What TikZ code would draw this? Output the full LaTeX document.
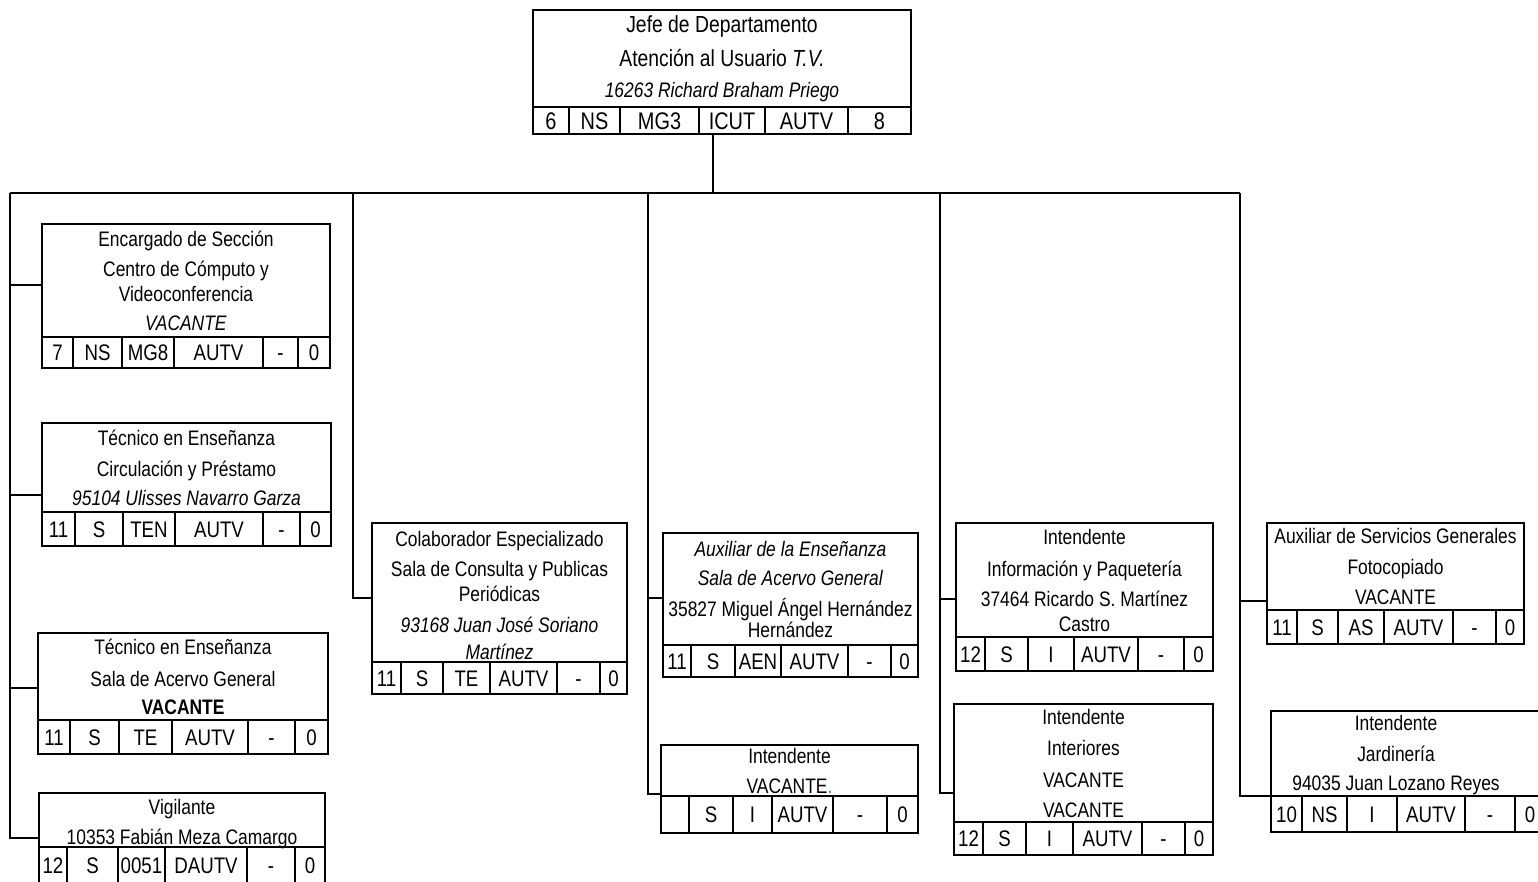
\documentclass[tikz,border=0pt]{standalone}
\usepackage{fontspec}
\setmainfont{Liberation Sans}[FakeStretch=0.83]
\usetikzlibrary{positioning}

\definecolor{verdepunto}{RGB}{0,166,81}
\newcommand{\letracaja}{\fontsize{21}{25}\selectfont}
\newcommand{\letragrande}{\fontsize{23.3}{34}\selectfont}
\newcommand{\letracelda}{\fontsize{22.5}{26}\selectfont}
\newcommand{\letraceldagrande}{\fontsize{24}{28}\selectfont}

\tikzset{
  caja/.style={draw, line width=2.2pt, inner sep=0pt, outer sep=0pt, align=center, anchor=north west, font=\letracaja},
  celda/.style={draw, line width=2.2pt, inner sep=0pt, outer sep=0pt, anchor=north west, minimum height=#1, font=\letracelda, text height=16pt, text depth=0pt},
  celdagrande/.style={celda=#1, font=\letraceldagrande, text height=17pt},
  linea/.style={line width=1.6pt}
}

\begin{document}
\begin{tikzpicture}[x=1pt, y=1pt]
\useasboundingbox[fill=white] (0,0) rectangle (1538,-881);

% jefe de departamento
\node[caja, font=\letragrande, minimum width=378pt, minimum height=97pt] (jefe) at (533,-10) {Jefe de Departamento\\Atención al Usuario \textit{T.V.}\\[-3pt]{\letracaja\itshape 16263 Richard Braham Priego}};
\node[celdagrande=27pt, minimum width=36pt] (jefe1) at (jefe.south west) {6};
\node[celdagrande=27pt, minimum width=51pt, right=0pt of jefe1] (jefe2) {NS};
\node[celdagrande=27pt, minimum width=79pt, right=0pt of jefe2] (jefe3) {MG3};
\node[celdagrande=27pt, minimum width=66pt, right=0pt of jefe3] (jefe4) {ICUT};
\node[celdagrande=27pt, minimum width=83pt, right=0pt of jefe4] (jefe5) {AUTV};
\node[celdagrande=27pt, minimum width=63pt, right=0pt of jefe5] (jefe6) {8};

% primera columna
\node[caja, minimum width=288pt, minimum height=113pt] (enc) at (42,-224) {Encargado de Sección\\[5pt]Centro de Cómputo y\\Videoconferencia\\[4pt]\textit{VACANTE}};
\node[celda=31pt, minimum width=31pt] (enc1) at (enc.south west) {7};
\node[celda=31pt, minimum width=49pt, right=0pt of enc1] (enc2) {NS};
\node[celda=31pt, minimum width=52pt, right=0pt of enc2] (enc3) {MG8};
\node[celda=31pt, minimum width=89pt, right=0pt of enc3] (enc4) {AUTV};
\node[celda=31pt, minimum width=35pt, right=0pt of enc4] (enc5) {-};
\node[celda=31pt, minimum width=32pt, right=0pt of enc5] (enc6) {0};

\node[caja, minimum width=289pt, minimum height=89pt] (circ) at (42,-423) {Técnico en Enseñanza\\[6pt]Circulación y Préstamo\\[4pt]\textit{95104 Ulisses Navarro Garza}};
\node[celda=34pt, minimum width=33pt] (circ1) at (circ.south west) {11};
\node[celda=34pt, minimum width=48pt, right=0pt of circ1] (circ2) {S};
\node[celda=34pt, minimum width=52pt, right=0pt of circ2] (circ3) {TEN};
\node[celda=34pt, minimum width=88pt, right=0pt of circ3] (circ4) {AUTV};
\node[celda=34pt, minimum width=37pt, right=0pt of circ4] (circ5) {-};
\node[celda=34pt, minimum width=31pt, right=0pt of circ5] (circ6) {0};

\node[caja, minimum width=290pt, minimum height=87pt] (sala) at (38,-633) {Técnico en Enseñanza\\[7pt]Sala de Acervo General\\[3pt]\textbf{VACANTE}};
\node[celda=34pt, minimum width=32pt] (sala1) at (sala.south west) {11};
\node[celda=34pt, minimum width=49pt, right=0pt of sala1] (sala2) {S};
\node[celda=34pt, minimum width=53pt, right=0pt of sala2] (sala3) {TE};
\node[celda=34pt, minimum width=76pt, right=0pt of sala3] (sala4) {AUTV};
\node[celda=34pt, minimum width=47pt, right=0pt of sala4] (sala5) {-};
\node[celda=34pt, minimum width=33pt, right=0pt of sala5] (sala6) {0};

\node[caja, minimum width=286pt, minimum height=54pt] (vig) at (39,-793) {};
\node[font=\letracaja, align=center, inner sep=0pt] (vigtexto) at ([yshift=-4pt]vig.center) {Vigilante\\[5pt]10353 Fabián Meza Camargo};
\node[celda=36pt, minimum width=28pt] (vig1) at (vig.south west) {12};
\node[celda=36pt, minimum width=51pt, right=0pt of vig1] (vig2) {S};
\node[celda=36pt, minimum width=47pt, right=0pt of vig2] (vig3) {0051};
\node[celda=36pt, minimum width=82pt, right=0pt of vig3] (vig4) {DAUTV};
\node[celda=36pt, minimum width=48pt, right=0pt of vig4] (vig5) {-};
\node[celda=36pt, minimum width=30pt, right=0pt of vig5] (vig6) {0};

% segunda columna
\node[caja, minimum width=255pt, minimum height=139pt] (colab) at (372,-523) {\rule{0pt}{22pt}Colaborador Especializado\\[5pt]Sala de Consulta y Publicas\\Periódicas\\[6pt]\textit{93168 Juan José Soriano}\\[2pt]\textit{Martínez}};
\node[celda=32pt, minimum width=29pt] (colab1) at (colab.south west) {11};
\node[celda=32pt, minimum width=42pt, right=0pt of colab1] (colab2) {S};
\node[celda=32pt, minimum width=47pt, right=0pt of colab2] (colab3) {TE};
\node[celda=32pt, minimum width=67pt, right=0pt of colab3] (colab4) {AUTV};
\node[celda=32pt, minimum width=43pt, right=0pt of colab4] (colab5) {-};
\node[celda=32pt, minimum width=27pt, right=0pt of colab5] (colab6) {0};

% tercera columna
\node[caja, minimum width=255pt, minimum height=112pt] (aux) at (663,-533) {\textit{Auxiliar de la Enseñanza}\\[4pt]\textit{Sala de Acervo General}\\[6pt]35827 Miguel Ángel Hernández\\[-4pt]Hernández};
\node[celda=32pt, minimum width=28pt] (aux1) at (aux.south west) {11};
\node[celda=32pt, minimum width=44pt, right=0pt of aux1] (aux2) {S};
\node[celda=32pt, minimum width=46pt, right=0pt of aux2] (aux3) {AEN};
\node[celda=32pt, minimum width=67pt, right=0pt of aux3] (aux4) {AUTV};
\node[celda=32pt, minimum width=43pt, right=0pt of aux4] (aux5) {-};
\node[celda=32pt, minimum width=27pt, right=0pt of aux5] (aux6) {0};

\node[caja, minimum width=257pt, minimum height=51pt] (intm) at (661,-745) {Intendente\\[5pt]VACANTE{\color{verdepunto}.}};
\node[celda=37pt, minimum width=28pt] (intm1) at (intm.south west) {};
\node[celda=37pt, minimum width=44pt, right=0pt of intm1] (intm2) {S};
\node[celda=37pt, minimum width=39pt, right=0pt of intm2] (intm3) {I};
\node[celda=37pt, minimum width=61pt, right=0pt of intm3] (intm4) {AUTV};
\node[celda=37pt, minimum width=54pt, right=0pt of intm4] (intm5) {-};
\node[celda=37pt, minimum width=31pt, right=0pt of intm5] (intm6) {0};

% cuarta columna
\node[caja, minimum width=257pt, minimum height=114pt] (info) at (956,-523) {Intendente\\[7pt]Información y Paquetería\\[5pt]37464 Ricardo S. Martínez\\Castro};
\node[celda=34pt, minimum width=29pt] (info1) at (info.south west) {12};
\node[celda=34pt, minimum width=43pt, right=0pt of info1] (info2) {S};
\node[celda=34pt, minimum width=46pt, right=0pt of info2] (info3) {I};
\node[celda=34pt, minimum width=64pt, right=0pt of info3] (info4) {AUTV};
\node[celda=34pt, minimum width=46pt, right=0pt of info4] (info5) {-};
\node[celda=34pt, minimum width=29pt, right=0pt of info5] (info6) {0};

\node[caja, minimum width=259pt, minimum height=118pt] (inter) at (954,-704) {Intendente\\[6pt]Interiores\\[7pt]VACANTE\\[5pt]VACANTE};
\node[celda=33pt, minimum width=29pt] (inter1) at (inter.south west) {12};
\node[celda=33pt, minimum width=43pt, right=0pt of inter1] (inter2) {S};
\node[celda=33pt, minimum width=47pt, right=0pt of inter2] (inter3) {I};
\node[celda=33pt, minimum width=69pt, right=0pt of inter3] (inter4) {AUTV};
\node[celda=33pt, minimum width=43pt, right=0pt of inter4] (inter5) {-};
\node[celda=33pt, minimum width=28pt, right=0pt of inter5] (inter6) {0};

% quinta columna
\node[caja, minimum width=257pt, minimum height=87pt] (serv) at (1267,-523) {Auxiliar de Servicios Generales\\[6pt]Fotocopiado\\[5pt]VACANTE};
\node[celda=34pt, minimum width=30pt] (serv1) at (serv.south west) {11};
\node[celda=34pt, minimum width=41pt, right=0pt of serv1] (serv2) {S};
\node[celda=34pt, minimum width=46pt, right=0pt of serv2] (serv3) {AS};
\node[celda=34pt, minimum width=69pt, right=0pt of serv3] (serv4) {AUTV};
\node[celda=34pt, minimum width=43pt, right=0pt of serv4] (serv5) {-};
\node[celda=34pt, minimum width=28pt, right=0pt of serv5] (serv6) {0};

\node[caja, minimum width=274pt, minimum height=85pt] (jard) at (1271,-711) {};
\node[font=\letracaja, align=center, inner sep=0pt] (jardtexto) at ([xshift=-12pt, yshift=-2pt]jard.center) {Intendente\\[6pt]Jardinería\\[4pt]94035 Juan Lozano Reyes};
\node[celda=36pt, minimum width=31pt] (jard1) at (jard.south west) {10};
\node[celda=36pt, minimum width=45pt, right=0pt of jard1] (jard2) {NS};
\node[celda=36pt, minimum width=50pt, right=0pt of jard2] (jard3) {I};
\node[celda=36pt, minimum width=68pt, right=0pt of jard3] (jard4) {AUTV};
\node[celda=36pt, minimum width=50pt, right=0pt of jard4] (jard5) {-};
\node[celda=36pt, minimum width=30pt, right=0pt of jard5] (jard6) {0};

% lineas
\coordinate (b0) at (713,-193);
\coordinate (b1) at (10,-193);
\coordinate (b2) at (353,-193);
\coordinate (b3) at (648,-193);
\coordinate (b4) at (940,-193);
\coordinate (b5) at (1240,-193);
\draw[linea] (jefe4.south -| b0) -- (b0);
\draw[linea] (b1) -- (b5);
\draw[linea] (b1) |- (enc.west |- 0,-285);
\draw[linea] (b1) |- (circ.west |- 0,-495);
\draw[linea] (b1) |- (sala.west |- 0,-688);
\draw[linea] (b1) |- (vig.west |- 0,-838);
\draw[linea] (b2) |- (colab.west |- 0,-598);
\draw[linea] (b3) |- (aux.west |- 0,-598);
\draw[linea] (b3) |- (intm.west |- 0,-794);
\draw[linea] (b4) |- (info.west |- 0,-599);
\draw[linea] (b4) |- (inter.west |- 0,-793);
\draw[linea] (b5) |- (serv.west |- 0,-601);
\draw[linea] (b5) |- (jard.west |- 0,-796);
\end{tikzpicture}
\end{document}
